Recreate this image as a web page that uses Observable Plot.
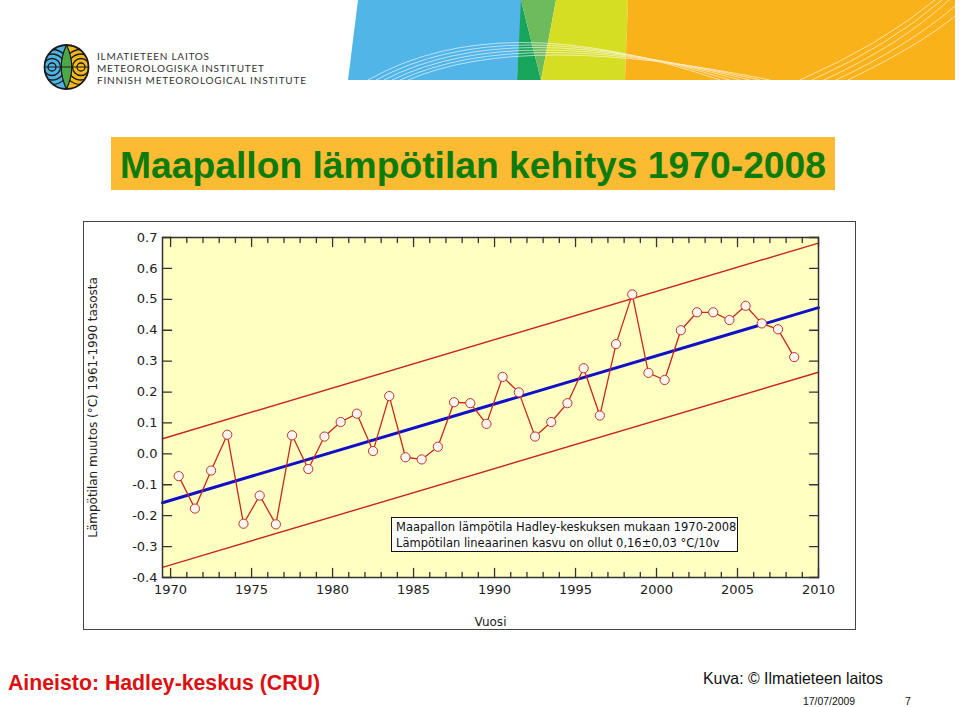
<!DOCTYPE html>
<html>
<head>
<meta charset="utf-8">
<script src="https://cdn.jsdelivr.net/npm/d3@7"></script>
<script src="https://cdn.jsdelivr.net/npm/@observablehq/plot@0.6"></script>
<style>
  html, body { margin: 0; padding: 0; background: #fff; }
  #page { position: relative; width: 960px; height: 707px; overflow: hidden; }
  #bg { position: absolute; left: 0; top: 0; }
  #chartbox { position: absolute; left: 84px; top: 222px; width: 771px; height: 407px; outline: 1.5px solid #444; background: #fff; }
  #chartbox svg { display: block; }
  #legend { position: absolute; left: 391px; top: 517px; width: 347px; height: 35px; box-sizing: border-box;
            border: 1px solid #111; background: #fff; font-family: "DejaVu Sans", sans-serif; font-size: 11.5px;
            line-height: 16px; padding: 1px 0 0 4px; color: #111; white-space: nowrap; }
</style>
</head>
<body>
<div id="page">
  <svg id="bg" width="960" height="707" xmlns="http://www.w3.org/2000/svg">
    <defs>
      <clipPath id="logoclip"><circle cx="66.5" cy="67" r="22"/></clipPath>
    </defs>
    <!-- header band -->
    <polygon points="358,0 522,0 517,80 348,80" fill="#52B5E8"/>
    <polygon points="521,0 541,80 517,80" fill="#17A45B"/>
    <polygon points="521,0 556,0 541,80" fill="#6DBB5C"/>
    <polygon points="556,0 628,0 625,80 541,80" fill="#D5DE23"/>
    <polygon points="628,0 955,0 955,80 625,80" fill="#F9B21A"/>
    <g fill="none" stroke="#fff" stroke-width="0.8" opacity="0.75">
      <path d="M368,80 Q500,5 720,80"/>
      <path d="M376,80 Q505,10 730,80"/>
      <path d="M384,80 Q510,15 740,80"/>
      <path d="M392,80 Q515,20 750,80"/>
      <path d="M400,80 Q520,25 760,80"/>
      <path d="M408,80 Q525,30 770,80"/>
      <path d="M800,80 Q880,45 935,0"/>
      <path d="M812,80 Q890,45 942,0"/>
      <path d="M824,80 Q900,45 949,0"/>
      <path d="M836,80 Q910,45 955,6"/>
      <path d="M848,80 Q920,45 955,16"/>
    </g>
    <!-- logo -->
    <g clip-path="url(#logoclip)">
      <rect x="44" y="44" width="23" height="46" fill="#4FB2E3"/>
      <rect x="66.5" y="44" width="23" height="46" fill="#F5B81C"/>
      <g fill="none" stroke="#1a1a1a" stroke-width="1.3">
        <circle cx="52" cy="67" r="4"/>
        <circle cx="52" cy="67" r="8.5"/>
        <circle cx="52" cy="67" r="13"/>
        <circle cx="52" cy="67" r="17.5"/>
        <circle cx="81" cy="67" r="4"/>
        <circle cx="81" cy="67" r="8.5"/>
        <circle cx="81" cy="67" r="13"/>
        <circle cx="81" cy="67" r="17.5"/>
      </g>
      <path d="M66.5,45 Q77,67 66.5,89 Q56,67 66.5,45 Z" fill="#4DA848" stroke="#1a1a1a" stroke-width="1.2"/>
      <line x1="44" y1="67" x2="89" y2="67" stroke="#1a1a1a" stroke-width="1.2"/>
    </g>
    <circle cx="66.5" cy="67" r="22" fill="none" stroke="#1a1a1a" stroke-width="1.8"/>
    <g font-family="Lato, 'DejaVu Sans', sans-serif" font-size="10" fill="#333">
      <text x="97" y="59.5" textLength="112" lengthAdjust="spacing">ILMATIETEEN LAITOS</text>
      <text x="97" y="71.5" textLength="167" lengthAdjust="spacing">METEOROLOGISKA INSTITUTET</text>
      <text x="97" y="83.5" textLength="209" lengthAdjust="spacing">FINNISH METEOROLOGICAL INSTITUTE</text>
    </g>
    <!-- title -->
    <rect x="111" y="137" width="724" height="53" fill="#FDBA33"/>
    <text x="120" y="177.5" font-family="'Liberation Sans', Arial, sans-serif" font-weight="bold" font-size="37"
          fill="#0C7C0C" textLength="706" lengthAdjust="spacingAndGlyphs">Maapallon lämpötilan kehitys 1970-2008</text>
    <!-- footer -->
    <text x="8" y="689.5" font-family="'Liberation Sans', Arial, sans-serif" font-weight="bold" font-size="22"
          fill="#DD1010" textLength="312" lengthAdjust="spacingAndGlyphs">Aineisto: Hadley-keskus (CRU)</text>
    <text x="703" y="684" font-family="'Liberation Sans', Arial, sans-serif" font-size="16.5"
          fill="#111" textLength="180" lengthAdjust="spacingAndGlyphs">Kuva: © Ilmatieteen laitos</text>
    <text x="803" y="705" font-family="'Liberation Sans', Arial, sans-serif" font-size="10.5"
          fill="#111" textLength="52" lengthAdjust="spacingAndGlyphs">17/07/2009</text>
    <text x="905" y="705" font-family="'Liberation Sans', Arial, sans-serif" font-size="10.5" fill="#111">7</text>
  </svg>
  <div id="chartbox"></div>
  <div id="legend">Maapallon lämpötila Hadley-keskuksen mukaan 1970-2008<br>Lämpötilan lineaarinen kasvu on ollut 0,16±0,03 °C/10v</div>
</div>
<script>
// ---- data ----
const years = [1970,1971,1972,1973,1974,1975,1976,1977,1978,1979,
               1980,1981,1982,1983,1984,1985,1986,1987,1988,1989,
               1990,1991,1992,1993,1994,1995,1996,1997,1998,1999,
               2000,2001,2002,2003,2004,2005,2006,2007,2008];
const anomalies = [-0.072,-0.177,-0.054,0.062,-0.226,-0.135,-0.228,0.060,-0.049,0.056,
                   0.103,0.130,0.009,0.187,-0.011,-0.018,0.023,0.167,0.164,0.097,
                   0.249,0.199,0.056,0.103,0.164,0.277,0.124,0.355,0.516,0.262,
                   0.239,0.400,0.458,0.458,0.433,0.479,0.422,0.403,0.313];
const trendYears = [1969.5, 2010];
const trendValues = [-0.158, 0.473];
const upperValues = [0.049, 0.682];
const lowerValues = [-0.367, 0.264];
const xTickLabels = [1970,1975,1980,1985,1990,1995,2000,2005,2010];
const xMinorTicks = [1971,1972,1973,1974,1976,1977,1978,1979,1981,1982,1983,1984,1986,1987,1988,1989,
                     1991,1992,1993,1994,1996,1997,1998,1999,2001,2002,2003,2004,2006,2007,2008,2009];
const yTicks = [-0.4,-0.3,-0.2,-0.1,0.0,0.1,0.2,0.3,0.4,0.5,0.6,0.7];
const yLabel = "Lämpötilan muutos (°C) 1961-1990 tasosta";
const xLabel = "Vuosi";

const series = years.map((y, i) => ({year: y, value: anomalies[i]}));
const trend = trendYears.map((y, i) => ({year: y, mid: trendValues[i], upper: upperValues[i], lower: lowerValues[i]}));

const tickShape = {draw(context, l) { context.moveTo(0, 0); context.lineTo(0, -l); }};
const tk = {shape: tickShape, anchor: "start", stroke: "#333", strokeWidth: 1.3};

const chart = Plot.plot({
  width: 771, height: 407,
  marginLeft: 78, marginRight: 37, marginTop: 15, marginBottom: 52,
  style: {fontFamily: "'DejaVu Sans', sans-serif", fontSize: "13px", color: "#222", background: "transparent", overflow: "visible"},
  x: {domain: [1969.5, 2010]},
  y: {domain: [-0.4, 0.7]},
  marks: [
    Plot.frame({fill: "#FFFFC2", stroke: null}),
    Plot.axisX({ticks: xTickLabels, tickSize: 0, tickPadding: 7, tickFormat: d => String(d), label: null, fontSize: 13}),
    Plot.axisY({ticks: yTicks, tickSize: 0, tickPadding: 5, tickFormat: d => d.toFixed(1), label: null, fontSize: 13}),
    // inward ticks on all four sides
    Plot.vector(xTickLabels, {...tk, x: d => d, frameAnchor: "bottom", length: 9, rotate: 0}),
    Plot.vector(xMinorTicks, {...tk, x: d => d, frameAnchor: "bottom", length: 5, rotate: 0}),
    Plot.vector(xTickLabels, {...tk, x: d => d, frameAnchor: "top", length: 9, rotate: 180}),
    Plot.vector(xMinorTicks, {...tk, x: d => d, frameAnchor: "top", length: 5, rotate: 180}),
    Plot.vector(yTicks, {...tk, y: d => d, frameAnchor: "left", length: 9, rotate: 90}),
    Plot.vector(yTicks, {...tk, y: d => d, frameAnchor: "right", length: 9, rotate: -90}),
    // trend and band
    Plot.line(trend, {x: "year", y: "upper", stroke: "#C8281C", strokeWidth: 1.4}),
    Plot.line(trend, {x: "year", y: "lower", stroke: "#C8281C", strokeWidth: 1.4}),
    Plot.line(trend, {x: "year", y: "mid", stroke: "#1010C8", strokeWidth: 3}),
    // annual series (plotted at mid-year)
    Plot.line(series, {x: d => d.year + 0.5, y: "value", stroke: "#C8281C", strokeWidth: 1.3}),
    Plot.dot(series, {x: d => d.year + 0.5, y: "value", r: 4.6, fill: "#FFF6F2", stroke: "#B8362C", strokeWidth: 1}),
    Plot.frame({stroke: "#333", strokeWidth: 1.5}),
    Plot.text([yLabel], {text: d => d, frameAnchor: "left", rotate: -90, dx: -69, fontSize: 12, fill: "#222", textAnchor: "middle", lineAnchor: "middle"}),
    Plot.text([xLabel], {text: d => d, frameAnchor: "bottom", dy: 45, fontSize: 12, fill: "#222", textAnchor: "middle", lineAnchor: "middle"})
  ]
});
document.getElementById("chartbox").appendChild(chart);
</script>
</body>
</html>
